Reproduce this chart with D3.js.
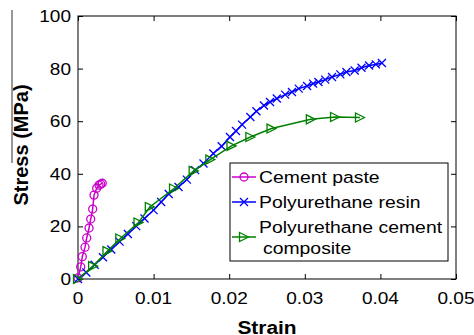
<!DOCTYPE html>
<html><head><meta charset="utf-8">
<script src="https://cdn.jsdelivr.net/npm/d3@7"></script>
<style>body{margin:0;background:#fff}svg{display:block}</style>
</head><body>
<script>
const xTicks = [0, 0.01, 0.02, 0.03, 0.04, 0.05];
const xTickLabels = ["0", "0.01", "0.02", "0.03", "0.04", "0.05"];
const yTicks = [0, 20, 40, 60, 80, 100];
const yTickLabels = ["0", "20", "40", "60", "80", "100"];

const cementStrain = [0, 0.00036, 0.00057, 0.00093, 0.00115, 0.00146, 0.00168, 0.00194, 0.00212, 0.00247, 0.00278, 0.003, 0.00321];
const cementStress = [0.4, 4.6, 8.5, 12.1, 15.6, 19.4, 22.8, 26.6, 31.9, 34.5, 35.7, 36.1, 36.4];

const resinStrain = [0, 0.0011, 0.0022, 0.0033, 0.0044, 0.0055, 0.0066, 0.0077, 0.0088, 0.01, 0.011, 0.012, 0.0133, 0.0144, 0.0155, 0.0166, 0.0179, 0.019, 0.0201, 0.0209, 0.0217, 0.0228, 0.0236, 0.0246, 0.0254, 0.0263, 0.0274, 0.0283, 0.0292, 0.0303, 0.0311, 0.0318, 0.0327, 0.0336, 0.0347, 0.0355, 0.0366, 0.0375, 0.0385, 0.0394, 0.0402];
const resinStress = [0, 2.5, 5.4, 8.3, 11.2, 14.2, 17.1, 20.1, 23.0, 26.2, 29.3, 32.3, 35.0, 37.8, 41.4, 43.9, 47.7, 50.5, 54.0, 56.3, 58.7, 61.6, 63.8, 66.0, 67.3, 68.6, 70.1, 71.1, 72.4, 73.4, 74.3, 74.9, 75.8, 76.8, 77.8, 78.7, 79.3, 80.3, 81.2, 81.6, 82.1];

const compStrain = [0, 0.002, 0.0039, 0.0056, 0.008, 0.0095, 0.0127, 0.0153, 0.0175, 0.0203, 0.0228, 0.0256, 0.0308, 0.034, 0.0373];
const compStress = [0, 4.9, 10.6, 15.4, 21.5, 27.4, 34.4, 41.1, 45.4, 50.6, 54.0, 57.2, 60.7, 61.6, 61.4];

const legendLabels = ["Cement paste", "Polyurethane resin", "Polyurethane cement", "composite"];

const W = 474, H = 335;
const m = {l: 78, r: 456, t: 16, b: 279};
const FONT = "Liberation Sans, Arial, sans-serif";
const svg = d3.select("body").append("svg").attr("width", W).attr("height", H)
  .style("font-family", FONT);

const x = d3.scaleLinear().domain([0, 0.05]).range([m.l, m.r]);
const y = d3.scaleLinear().domain([0, 100]).range([m.b, m.t]);

function addText(g, px, py, str, size, sx, anchor, weight) {
  return g.append("text")
    .attr("transform", `translate(${px},${py}) scale(${sx},1)`)
    .attr("text-anchor", anchor || "start")
    .style("font-size", size + "px").style("font-weight", weight || "normal")
    .attr("fill", "#000").text(str);
}

// frame
svg.append("rect").attr("x", m.l).attr("y", m.t).attr("width", m.r - m.l).attr("height", m.b - m.t)
  .attr("fill", "none").attr("stroke", "#000").attr("stroke-width", 1);

const tl = 5;
const xb = svg.append("g").attr("transform", `translate(0,${m.b})`)
  .call(d3.axisBottom(x).tickValues(xTicks).tickFormat("").tickSizeInner(-tl).tickSizeOuter(0));
const xt = svg.append("g").attr("transform", `translate(0,${m.t})`)
  .call(d3.axisTop(x).tickValues(xTicks).tickFormat("").tickSizeInner(-tl).tickSizeOuter(0));
const yl = svg.append("g").attr("transform", `translate(${m.l},0)`)
  .call(d3.axisLeft(y).tickValues(yTicks).tickFormat("").tickSizeInner(-tl).tickSizeOuter(0));
const yr = svg.append("g").attr("transform", `translate(${m.r},0)`)
  .call(d3.axisRight(y).tickValues(yTicks).tickFormat("").tickSizeInner(-tl).tickSizeOuter(0));
[xb, xt, yl, yr].forEach(g => {
  g.select(".domain").remove();
  g.selectAll("line").attr("stroke", "#000");
  g.selectAll("text").remove();
});

// tick labels
const tg = svg.append("g");
xTicks.forEach((v, i) => addText(tg, x(v), 304, xTickLabels[i], 17, 1.12, "middle"));
yTicks.forEach((v, i) => addText(tg, 71, y(v) + 6, yTickLabels[i], 17, 1.12, "end"));

// axis titles
addText(svg, (m.l + m.r) / 2, 334, "Strain", 19, 1.1, "middle", "bold");
svg.append("text").attr("transform", `translate(28,145) rotate(-90)`).attr("text-anchor", "middle")
  .style("font-size", "20px").style("font-weight", "bold").text("Stress (MPa)");
svg.append("line").attr("x1", 12).attr("x2", 12).attr("y1", 10).attr("y2", 163).attr("stroke", "#333").attr("stroke-width", 1);

const series = [
  {sx: cementStrain, sy: cementStress, color: "#cc00cc", marker: "circle"},
  {sx: resinStrain, sy: resinStress, color: "#0000ff", marker: "cross"},
  {sx: compStrain, sy: compStress, color: "#008000", marker: "tri"}
];

function drawMarker(g, type, color, px, py) {
  if (type === "circle") {
    g.append("circle").attr("cx", px).attr("cy", py).attr("r", 4).attr("fill", "none").attr("stroke", color).attr("stroke-width", 1.3);
  } else if (type === "cross") {
    const s = 4;
    g.append("path").attr("d", `M${px - s},${py - s}L${px + s},${py + s}M${px - s},${py + s}L${px + s},${py - s}`)
      .attr("stroke", color).attr("stroke-width", 1.3).attr("fill", "none");
  } else {
    const s = 4.5;
    g.append("path").attr("d", `M${px + s},${py}L${px - s},${py - s}L${px - s},${py + s}Z`)
      .attr("stroke", color).attr("stroke-width", 1.3).attr("fill", "none");
  }
}

const line = d3.line().x(d => x(d[0])).y(d => y(d[1]));
series.forEach(s => {
  const pts = s.sx.map((v, i) => [v, s.sy[i]]);
  const g = svg.append("g");
  g.append("path").attr("d", line(pts)).attr("fill", "none").attr("stroke", s.color).attr("stroke-width", 1.5);
  pts.forEach(p => drawMarker(g, s.marker, s.color, x(p[0]), y(p[1])));
});

// legend
const lg = svg.append("g");
lg.append("rect").attr("x", 230).attr("y", 163).attr("width", 218).attr("height", 98)
  .attr("fill", "#fff").attr("stroke", "#000").attr("stroke-width", 1);
const legendRows = [
  {yl: 177, yt: 183, s: series[0], label: legendLabels[0]},
  {yl: 202, yt: 208, s: series[1], label: legendLabels[1]},
  {yl: 237, yt: 233, s: series[2], label: legendLabels[2]}
];
legendRows.forEach(r => {
  lg.append("line").attr("x1", 232).attr("x2", 256).attr("y1", r.yl).attr("y2", r.yl).attr("stroke", r.s.color).attr("stroke-width", 1.5);
  drawMarker(lg, r.s.marker, r.s.color, 244, r.yl);
  addText(lg, 259, r.yt, r.label, 17, 1.14);
});
addText(lg, 263, 254, legendLabels[3], 17, 1.14);
</script>
</body></html>
